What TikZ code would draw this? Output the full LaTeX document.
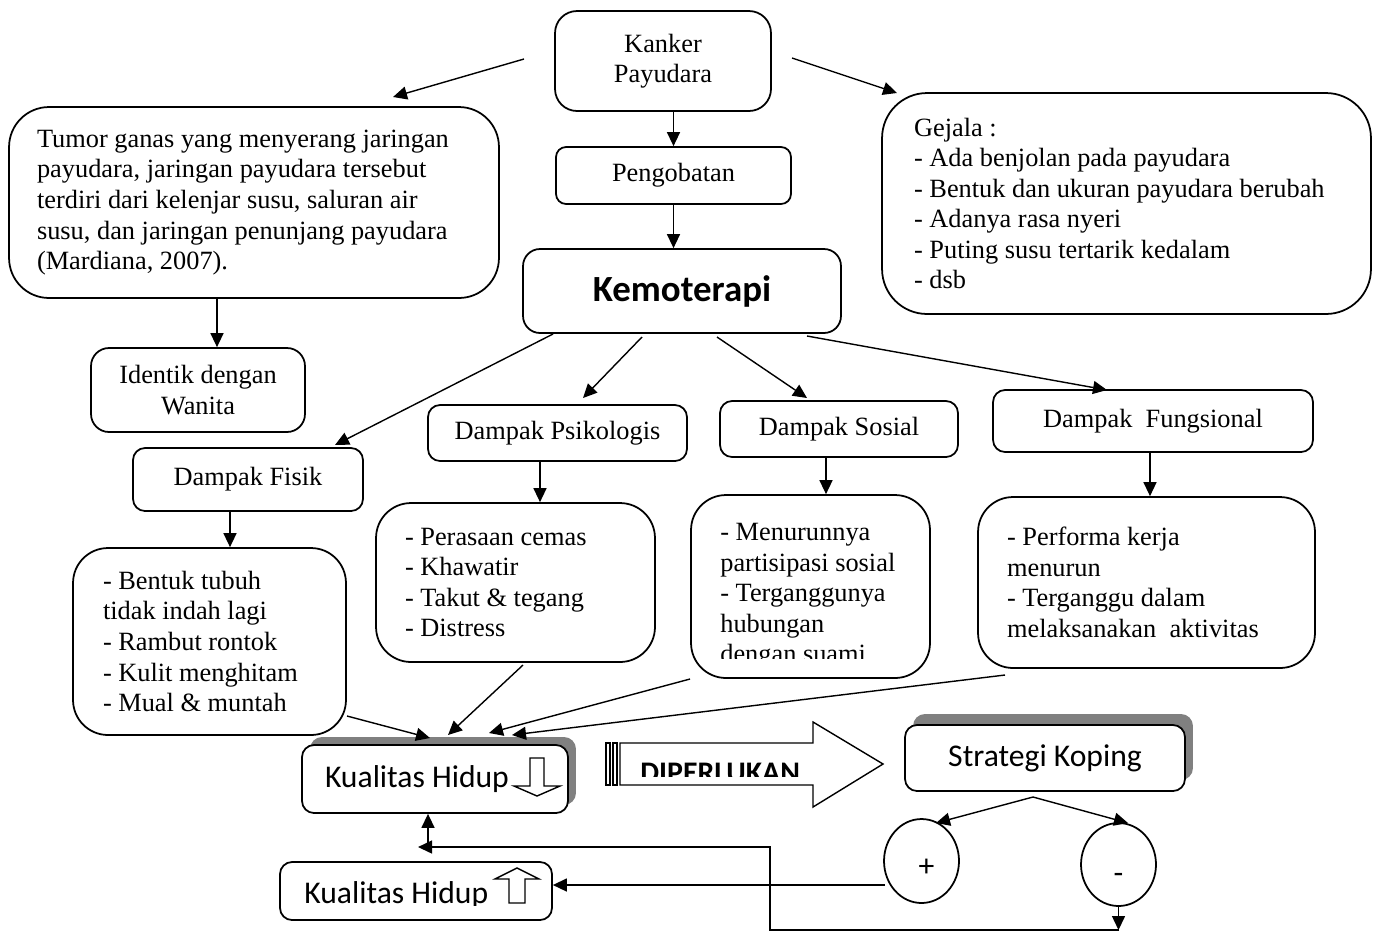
\documentclass[tikz,border=0pt]{standalone}
\usepackage{fontspec}
\setmainfont{Liberation Serif}
\newfontfamily\calibri{Carlito}
\usetikzlibrary{arrows.meta,shapes.geometric,shadows}

\begin{document}
\begin{tikzpicture}[
    x=0.02cm, y=-0.02cm,
    box/.style={draw, fill=white, line width=1pt, rounded corners=0.24cm, align=center,
                inner sep=2pt, font=\fontsize{15}{17.4}\selectfont},
    listbox/.style={box, rounded corners=0.7cm, align=flush left, inner xsep=0.58cm},
    sansbox/.style={box, font=\calibri\fontsize{18}{21}\selectfont},
    boxshadow/.style={drop shadow={shadow xshift=0.16cm, shadow yshift=#1,
                      fill=black!50, opacity=1}},
    boxshadow/.default=0.16cm,
    bubble/.style={draw, line width=1pt, ellipse, minimum width=1.5cm,
                   inner sep=0pt, font=\calibri\fontsize{18}{21}\selectfont},
    arr/.style={-{Triangle[length=0.28cm, width=0.26cm]}, line width=0.8pt},
    hollow/.style={draw, line width=0.8pt, fill=white, line join=miter}
]
\useasboundingbox (0,0) rectangle (1381,931);

% top part
\node[box, rounded corners=0.44cm, minimum width=4.32cm, minimum height=2cm] (kanker) at (663,61) {Kanker\\Payudara};
\node[box, rounded corners=0.2cm, minimum width=4.7cm, minimum height=1.14cm] (obat) at (673.5,175.5) {Pengobatan};
\node[box, rounded corners=0.34cm, minimum width=6.36cm, minimum height=1.68cm,
      font=\calibri\bfseries\fontsize{21}{25}\selectfont] (kemo) at (682,291) {Kemoterapi};

\node[listbox, rounded corners=0.8cm, inner xsep=0.56cm, text width=8.68cm, minimum height=3.82cm] (tumor) at (254,202.5)
  {Tumor ganas yang menyerang jaringan\\payudara, jaringan payudara tersebut\\terdiri dari kelenjar susu, saluran air\\susu, dan jaringan penunjang payudara\\(Mardiana, 2007).};
\node[listbox, rounded corners=0.9cm, inner xsep=0.64cm, text width=8.5cm, minimum height=4.42cm] (gejala) at (1126.5,203.5)
  {Gejala :\\- Ada benjolan pada payudara\\- Bentuk dan ukuran payudara berubah\\- Adanya rasa nyeri\\- Puting susu tertarik kedalam\\- dsb};
\node[box, rounded corners=0.36cm, minimum width=4.28cm, minimum height=1.68cm] (identik) at (198,390) {Identik dengan\\Wanita};

% dampak
\node[box, minimum width=4.6cm, minimum height=1.26cm] (fisik) at (248,479.5) {Dampak Fisik};
\node[box, minimum width=5.18cm, minimum height=1.12cm] (psiko) at (557.5,433) {Dampak Psikologis};
\node[box, minimum width=4.76cm, minimum height=1.12cm] (sosial) at (839,429) {Dampak Sosial};
\node[box, minimum width=6.4cm, minimum height=1.24cm] (fungsi) at (1153,421) {Dampak\ \ Fungsional};

\node[listbox, inner xsep=0.6cm, text width=4.26cm, minimum height=3.74cm] (fisikL) at (209.5,641.5)
  {- Bentuk tubuh\\tidak indah lagi\\- Rambut rontok\\- Kulit menghitam\\- Mual \& muntah};
\node[listbox, text width=4.42cm, minimum height=3.18cm] (psikoL) at (515.5,582.5)
  {- Perasaan cemas\\- Khawatir\\- Takut \& tegang\\- Distress};
\node[listbox, minimum width=4.78cm, minimum height=3.66cm] (sosialL) at (810.5,586.5) {};
\begin{scope}
  \clip (692,496) rectangle (929,658);
  \node[inner sep=0pt, anchor=north west, text width=4cm, align=flush left,
        font=\fontsize{15}{17.4}\selectfont] (sosialT) at (720,523)
    {- Menurunnya\\partisipasi sosial\\- Terganggunya\\hubungan\\dengan suami};
\end{scope}
\node[listbox, text width=5.58cm, minimum height=3.42cm] (fungsiL) at (1146.5,582.5)
  {- Performa kerja\\menurun\\- Terganggu dalam\\melaksanakan\ \ aktivitas};

% kualitas hidup
\node[sansbox, boxshadow, minimum width=5.32cm, minimum height=1.36cm, text width=4.4cm,
      align=flush left, inner xsep=0.46cm] (kualD) at (435,779) {Kualitas Hidup};
\draw[hollow] (530,758) -- (544,758) -- (544,786) -- (560,786) -- (537,796)
  -- (514,786) -- (530,786) -- cycle;

\node[sansbox, minimum width=5.44cm, minimum height=1.16cm] (kualU) at (416,891) {};
\begin{scope}
  \clip (281,863) rectangle (551,905);
  \node[anchor=base west, inner sep=0pt, font=\calibri\fontsize{18}{21}\selectfont] (kualUT) at (304,903) {Kualitas Hidup};
\end{scope}
\draw[hollow] (509,903) -- (509,879) -- (495,879) -- (517,868) -- (539,879)
  -- (525,879) -- (525,903) -- cycle;

% big arrow
\draw[line width=0.8pt] (606,743) rectangle (610,785);
\draw[line width=0.8pt] (613,743) rectangle (617,785);
\draw[line width=0.8pt, line join=miter] (620,743) -- (813,743) -- (813,722) -- (883,764)
  -- (813,807) -- (813,785) -- (620,785) -- cycle;
\begin{scope}
  \clip (622,745) rectangle (811,776);
  \node[anchor=base west, inner sep=0pt, font=\calibri\bfseries\fontsize{17}{20}\selectfont] (perlu) at (640,782) {DIPERLUKAN};
\end{scope}

% koping
\node[sansbox, boxshadow=0.22cm, minimum width=5.6cm, minimum height=1.32cm] (koping) at (1045,758) {Strategi Koping};
\node[bubble, minimum height=1.68cm] (plus) at (921.5,861) {\hspace*{0.2cm}\raisebox{-9pt}[0pt][0pt]{+}};
\node[bubble, minimum height=1.66cm] (minus) at (1118.5,864.5) {\raisebox{-11pt}[0pt][0pt]{-}};

% free ends
\coordinate (kL) at (524,59);   \coordinate (tT) at (393,97);
\coordinate (kR) at (792,58);   \coordinate (gT) at (897,93);
\coordinate (xT) at (217,0);
\coordinate (kF1) at (553,334); \coordinate (fT) at (335,445);
\coordinate (kF2) at (642,337); \coordinate (pT) at (583,398);
\coordinate (kF3) at (717,337); \coordinate (sT) at (807,398);
\coordinate (kF4) at (807,336); \coordinate (nT) at (1107,390);
\coordinate (xF) at (230,0);    \coordinate (xP) at (540,0);
\coordinate (xS) at (826,0);    \coordinate (xN) at (1150,0);
\coordinate (fB) at (347,716);  \coordinate (fK) at (430,738);
\coordinate (pB) at (523,665);  \coordinate (pK) at (448,735);
\coordinate (sB) at (690,679);  \coordinate (sK) at (489,733);
\coordinate (nB) at (1005,675); \coordinate (nK) at (512,735);
\coordinate (kopB) at (1033,797);
\coordinate (plusT) at (936,823); \coordinate (minusT) at (1128,823);
\coordinate (pL) at (885,885);
\coordinate (lpA) at (1119,930); \coordinate (lpB) at (770,930);
\coordinate (lpC) at (770,847);  \coordinate (lpD) at (418,847);
\coordinate (lpE) at (428,847);

% connectors
\draw[arr] (kL) -- (tT);
\draw[arr] (kR) -- (gT);
\draw[arr] (kanker.south -| obat.north) -- (obat.north);
\draw[arr] (obat.south) -- (obat.south |- kemo.north);
\draw[arr] (tumor.south -| xT) -- (identik.north -| xT);

\draw[arr] (kF1) -- (fT);
\draw[arr] (kF2) -- (pT);
\draw[arr] (kF3) -- (sT);
\draw[arr] (kF4) -- (nT);

\draw[arr] (fisik.south -| xF) -- (fisikL.north -| xF);
\draw[arr] (psiko.south -| xP) -- (psikoL.north -| xP);
\draw[arr] (sosial.south -| xS) -- (sosialL.north -| xS);
\draw[arr] (fungsi.south -| xN) -- (fungsiL.north -| xN);

\draw[arr] (fB) -- (fK);
\draw[arr] (pB) -- (pK);
\draw[arr] (sB) -- (sK);
\draw[arr] (nB) -- (nK);

\draw[arr] (kopB) -- (plusT);
\draw[arr] (kopB) -- (minusT);
\draw[arr] (pL) -- (pL -| kualU.east);
\draw[arr] (minus.south) -- (minus.south |- lpA);
\draw[arr] (lpA) -- (lpB) -- (lpC) -- (lpD);
\draw[arr] (lpE) -- (lpE |- kualD.south);

\end{tikzpicture}
\end{document}
